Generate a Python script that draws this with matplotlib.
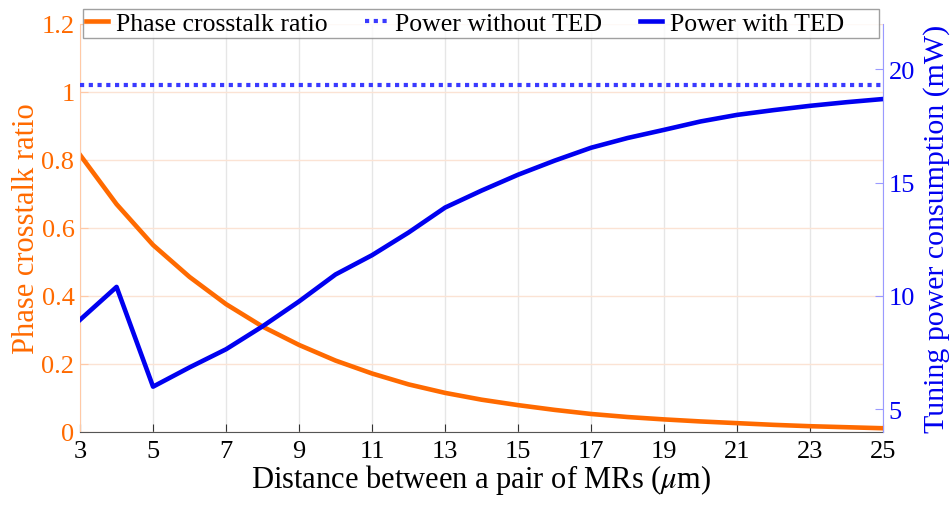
import matplotlib.pyplot as plt

plt.rcParams['font.family'] = ['Liberation Serif', 'DejaVu Serif']
plt.rcParams['mathtext.fontset'] = 'stix'

distance = list(range(3, 26))
crosstalk = [0.815, 0.67, 0.55, 0.456, 0.376, 0.31, 0.256, 0.21, 0.172, 0.14,
             0.115, 0.095, 0.079, 0.065, 0.053, 0.044, 0.037, 0.031, 0.026,
             0.021, 0.017, 0.014, 0.011]
power_ted = [8.95, 10.4, 6.0, 6.85, 7.65, 8.66, 9.76, 10.95, 11.8, 12.8, 13.9,
             14.65, 15.35, 15.97, 16.54, 16.97, 17.33, 17.7, 17.99, 18.2,
             18.39, 18.55, 18.69]
power_no_ted = [19.3] * len(distance)

orange = '#FF6A00'
blue = '#0000F0'

fig = plt.figure(figsize=(9.53, 5.06), dpi=100)
ax = fig.add_axes([0.084, 0.1443, 0.8426, 0.8063])
ax2 = ax.twinx()

l1, = ax.plot(distance, crosstalk, color=orange, lw=3.3, label='Phase crosstalk ratio')
l2, = ax2.plot(distance, power_no_ted, color='#3a3aff', lw=3, ls=(0, (1, 1.1)),
               label='Power without TED')
l3, = ax2.plot(distance, power_ted, color=blue, lw=3.3, label='Power with TED     ')

ax.set_xlim(3, 25)
ax.set_ylim(0, 1.2)
ax2.set_ylim(4, 22)
ax.set_xticks(range(3, 26, 2))
ax.set_yticks([0, 0.2, 0.4, 0.6, 0.8, 1, 1.2])
ax.set_yticklabels(['0', '0.2', '0.4', '0.6', '0.8', '1', '1.2'])
ax2.set_yticks([5, 10, 15, 20])

# grid: gray vertical, faint orange horizontal
ax.xaxis.grid(True, color='#e6e6e6', lw=1)
ax.yaxis.grid(True, color='#fbe3d4', lw=1)
ax.set_axisbelow(True)

ax.spines['top'].set_visible(False)
ax2.spines['top'].set_visible(False)
ax.spines['right'].set_visible(False)
ax2.spines['left'].set_visible(False)
ax2.spines['bottom'].set_visible(False)
ax.spines['left'].set_color('#ffc9a6')
ax2.spines['right'].set_color('#9a9aff')
ax.spines['bottom'].set_color('#555555')

ax.tick_params(axis='x', direction='in', labelsize=19, colors='#333333', labelcolor='black', length=6, pad=6)
ax.tick_params(axis='y', direction='in', labelsize=19, colors='#ffc9a6', labelcolor=orange, length=6, pad=4)
ax2.tick_params(axis='y', direction='in', labelsize=19, colors='#9a9aff', labelcolor=blue, length=6, pad=4)

ax.set_xlabel(r'Distance between a pair of MRs ($\mu$m)', fontsize=22, labelpad=0)
ax.set_ylabel('Phase crosstalk ratio', fontsize=22, color=orange, labelpad=0)
ax2.set_ylabel('Tuning power consumption (mW)', fontsize=21.5, color=blue, labelpad=6)

leg = ax.legend(handles=[l1, l2, l3], loc='upper left', ncol=3,
                bbox_to_anchor=(0.004, 1.037), borderaxespad=0,
                fontsize=18.5, frameon=True, fancybox=False, edgecolor='#888888',
                handlelength=0.86, handletextpad=0.31, columnspacing=1.45,
                borderpad=0.12)
leg.get_frame().set_linewidth(1)
leg.remove()
ax2.add_artist(leg)
ax2.set_zorder(ax.get_zorder() + 1)
ax.patch.set_visible(False)

fig.savefig('out.png', dpi=100)
